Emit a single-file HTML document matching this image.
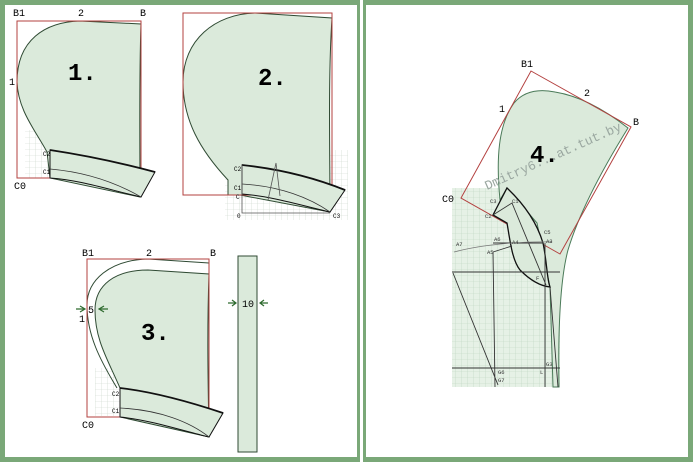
<!DOCTYPE html>
<html><head><meta charset="utf-8"><style>
html,body{margin:0;padding:0;background:#7aa878;}
svg{display:block}
text{font-family:"Liberation Mono",monospace;}
</style></head><body>
<svg width="693" height="462" viewBox="0 0 693 462" xmlns="http://www.w3.org/2000/svg">
<defs>
<pattern id="g" width="6" height="6" patternUnits="userSpaceOnUse"><path d="M6 0V6H0" fill="none" stroke="#c9d6c9" stroke-width="0.6"/></pattern>
<pattern id="g2" width="6" height="6" patternUnits="userSpaceOnUse"><rect width="6" height="6" fill="#e6f1e6"/><path d="M6 0V6H0" fill="none" stroke="#bcd3c0" stroke-width="0.6"/></pattern>
</defs>
<rect x="0" y="0" width="693" height="462" fill="#7aa878"/>
<rect x="5" y="5" width="352" height="452" fill="#fff"/>
<rect x="360" y="0" width="3" height="462" fill="#fff"/>
<rect x="366" y="5" width="322" height="452" fill="#fff"/>

<!-- Panel 1 -->
<rect x="25" y="130" width="113" height="48" fill="url(#g)"/>
<path d="M47,152 C35,130 18,110 17,82 C17,40 45,22 80,21 L141,24 C139,80 140,140 140,197 L50,178 Z" fill="#dbeadb" stroke="#2f4a33" stroke-width="1"/>
<rect x="17" y="21" width="124" height="157" fill="none" stroke="#b3403f" stroke-width="1"/>
<path d="M50,150 C90,156 125,164 155,172 L141,197 C110,190 80,180 50,178 Z" fill="#dbeadb" stroke="#111" stroke-width="1"/>
<path d="M50,150 C90,156 125,164 155,172" fill="none" stroke="#111" stroke-width="1.8"/>
<path d="M50,169 C85,172 115,182 141,197" fill="none" stroke="#333" stroke-width="0.8"/>
<text x="13" y="16" font-size="10">B1</text><text x="78" y="16" font-size="10">2</text><text x="140" y="16" font-size="10">B</text>
<text x="9" y="85" font-size="10">1</text><text x="14" y="189" font-size="10">C0</text>
<text x="43" y="156" font-size="6">C2</text><text x="43" y="174" font-size="6">C1</text>
<text x="68" y="80" font-size="24" font-weight="bold" font-family="Liberation Sans,sans-serif">1.</text>

<!-- Panel 2 -->
<rect x="225" y="150" width="123" height="70" fill="url(#g)"/>
<path d="M228,180 C200,150 183,120 183,82 C183,40 215,14 255,13 L332,18 C328,80 330,150 330,212 L240,195 L228,195 Z" fill="#dbeadb" stroke="#2f4a33" stroke-width="1"/>
<rect x="183" y="13" width="149" height="182" fill="none" stroke="#b3403f" stroke-width="1"/>
<path d="M242,165 C280,169 315,178 345,190 L330,212 C300,205 270,196 242,194 Z" fill="#dbeadb" stroke="#111" stroke-width="1"/>
<path d="M242,165 C280,169 315,178 345,190" fill="none" stroke="#111" stroke-width="1.8"/>
<path d="M242,184 C280,186 310,198 330,212" fill="none" stroke="#333" stroke-width="0.8"/>
<path d="M242,165 V213 H330 M268,200 L276,163 L280,196" fill="none" stroke="#555" stroke-width="0.8"/>
<text x="234" y="171" font-size="6">C2</text><text x="234" y="190" font-size="6">C1</text><text x="236" y="199" font-size="6">C</text>
<text x="237" y="218" font-size="6">0</text><text x="333" y="218" font-size="6">C3</text>
<text x="258" y="85" font-size="24" font-weight="bold" font-family="Liberation Sans,sans-serif">2.</text>

<!-- Panel 3 -->
<rect x="95" y="368" width="112" height="48" fill="url(#g)"/>
<path d="M120,388 C108,360 95,340 95,310 C95,285 115,270 148,270 L209,274 C207,330 208,380 209,437 L120,417 Z" fill="#dbeadb" stroke="#2f4a33" stroke-width="1"/>
<path d="M117,388 C100,360 87,335 87,305 C87,280 110,260 148,259 L209,263" fill="none" stroke="#2f4a33" stroke-width="1"/>
<rect x="87" y="259" width="122" height="158" fill="none" stroke="#b3403f" stroke-width="1"/>
<path d="M120,388 C155,392 190,402 223,413 L209,437 C180,430 150,420 120,417 Z" fill="#dbeadb" stroke="#111" stroke-width="1"/>
<path d="M120,388 C155,392 190,402 223,413" fill="none" stroke="#111" stroke-width="1.8"/>
<path d="M120,408 C160,410 190,422 209,437" fill="none" stroke="#333" stroke-width="0.8"/>
<text x="82" y="256" font-size="10">B1</text><text x="146" y="256" font-size="10">2</text><text x="210" y="256" font-size="10">B</text>
<text x="79" y="322" font-size="10">1</text><text x="82" y="428" font-size="10">C0</text>
<text x="88" y="313" font-size="10">5</text>
<path d="M76,309 L85,309 M80,306 L85,309 L80,312 M108,309 L99,309 M104,306 L99,309 L104,312" stroke="#2e6a2e" stroke-width="1.2" fill="none"/>
<text x="112" y="396" font-size="6">C2</text><text x="112" y="413" font-size="6">C1</text>
<text x="141" y="340" font-size="24" font-weight="bold" font-family="Liberation Sans,sans-serif">3.</text>
<rect x="238" y="256" width="19" height="196" fill="#dbeadb" stroke="#2f4a33" stroke-width="1"/>
<text x="242" y="307" font-size="10">10</text>
<path d="M228,303 L236,303 M232,300 L236,303 L232,306 M268,303 L260,303 M264,300 L260,303 L264,306" stroke="#2e6a2e" stroke-width="1.2" fill="none"/>

<!-- Panel 4 -->
<rect x="452" y="188" width="108" height="199" fill="url(#g2)"/>
<path d="M500,200 C496,160 498,125 514,103 C525,90 540,89 555,92 C580,96 605,110 628,128 C605,165 580,210 568,250 C560,280 558,330 559,387 L553,387 L550,287 L537,223 L507,188 Z" fill="#dbeadb" stroke="#4a7a58" stroke-width="1"/>
<polygon points="531,71 631,127 560,254 461,198" fill="none" stroke="#b3403f" stroke-width="1"/>
<path d="M507,188 C525,205 537,223 543,243 C547,262 547,280 550,287 C540,286 530,280 520,270 C512,260 510,240 507,223 L493,215 Z" fill="#dbeadb" stroke="#111" stroke-width="1.3"/>
<path d="M493,215 L512,203 L546,285 M493,243 H543 M493,252 L512,246 M493,252 L495,387 M545,243 L545,387 M550,287 L558,387 M452,272 H560 M452,368 H560 M453,273 L498,385" fill="none" stroke="#333" stroke-width="0.9"/>
<path d="M454,252 C480,245 520,241 552,242" fill="none" stroke="#777" stroke-width="0.7"/>
<text x="521" y="67" font-size="10">B1</text><text x="584" y="96" font-size="10">2</text>
<text x="633" y="125" font-size="10">B</text><text x="499" y="112" font-size="10">1</text>
<text x="442" y="202" font-size="10">C0</text>
<g font-size="5.5" fill="#333"><text x="490" y="203">C3</text><text x="512" y="203">C1</text><text x="485" y="218">C2</text><text x="544" y="234">C5</text><text x="546" y="243">A3</text><text x="494" y="241">A6</text><text x="512" y="244">A4</text><text x="456" y="246">A7</text><text x="487" y="254">A5</text><text x="536" y="280">F</text><text x="546" y="366">G3</text><text x="498" y="374">G6</text><text x="498" y="382">G7</text><text x="540" y="374">L</text></g>
<text x="487" y="190" font-size="13" fill="#9aa7a0" transform="rotate(-24 487 190)" font-family="Liberation Sans,sans-serif">Dmitry6...at.tut.by</text>
<text x="530" y="162" font-size="24" font-weight="bold" font-family="Liberation Sans,sans-serif">4.</text>
</svg>
</body></html>
